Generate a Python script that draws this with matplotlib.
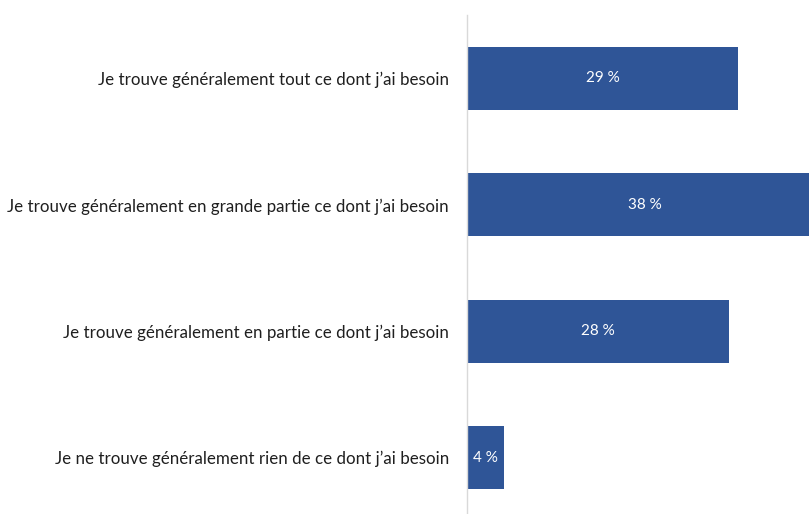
import matplotlib.pyplot as plt

# réponses et pourcentages
categories = [
    "Je trouve généralement tout ce dont j’ai besoin",
    "Je trouve généralement en grande partie ce dont j’ai besoin",
    "Je trouve généralement en partie ce dont j’ai besoin",
    "Je ne trouve généralement rien de ce dont j’ai besoin",
]
values = [29, 38, 28, 4]
labels = ["29 %", "38 %", "28 %", "4 %"]

plt.rcParams['font.family'] = ['Lato', 'DejaVu Sans']

fig = plt.figure(figsize=(8.09, 5.14), dpi=100)
ax = fig.add_axes([467 / 809, -6.7 / 514, 374 / 809, 505.4 / 514])

pos = list(range(len(categories)))
ax.barh(pos, values, height=0.5, color="#2F5597")
ax.set_xlim(0, 40)
ax.set_ylim(len(categories) - 0.5, -0.5)

for y, v, lab in zip(pos, values, labels):
    ax.text(v / 2, y, lab, color="white", ha="center", va="center", fontsize=11)

ax.set_yticks(pos)
ax.set_yticklabels(categories, fontsize=12.2, color="#1F1F1F")
ax.tick_params(axis="y", length=0, pad=13)
ax.set_xticks([])

for s in ["top", "right", "bottom"]:
    ax.spines[s].set_visible(False)
ax.spines["left"].set_color("#D9D9D9")
ax.spines["left"].set_linewidth(1)

fig.savefig("out.png", dpi=100)
